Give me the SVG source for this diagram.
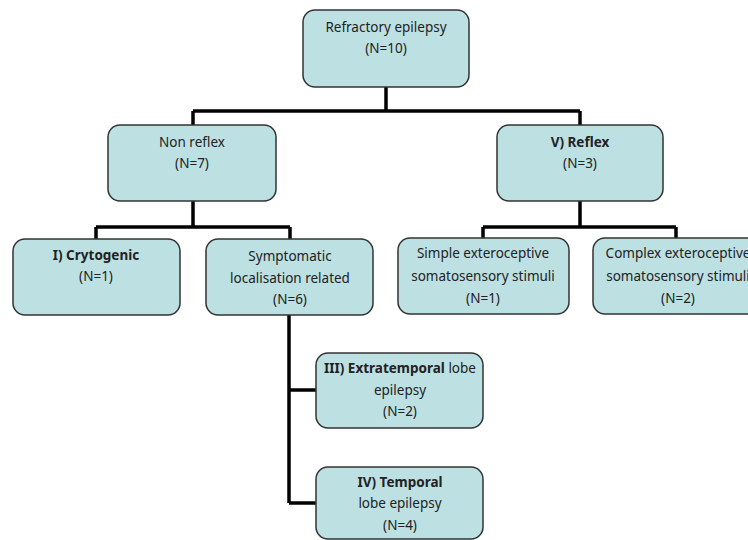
<svg xmlns="http://www.w3.org/2000/svg" width="748" height="540" viewBox="0 0 748 540">
<style>
.box{fill:#bde0e3;stroke:#333;stroke-width:1.5}
.t{font-family:"Noto Sans","Liberation Sans",sans-serif;font-size:13.5px;fill:#222;text-anchor:middle}
.b{font-weight:bold}
.c{fill:none;stroke:#000;stroke-width:3.5}
</style>
<rect width="748" height="540" fill="#fff"/>
<g id="connectors">
<path class="c" d="M386 87V111M193 111H580M193 111V125M580 111V125"/>
<path class="c" d="M193 201V227M96 227H290M96 227V239M290 227V239"/>
<path class="c" d="M580 201V227M483 227H676M483 227V238M676 227V238"/>
<path class="c" d="M289 315V503M289 390H316M289 503H316"/>
</g>
<g id="n_root"><rect class="box" x="303" y="10" width="166" height="77" rx="12"/>
<text class="t" x="386" y="32">Refractory epilepsy</text><text class="t" x="386" y="53">(N=10)</text></g>
<g id="n_nonreflex"><rect class="box" x="108" y="125" width="168" height="76" rx="12"/>
<text class="t" x="192" y="147">Non reflex</text><text class="t" x="192" y="168">(N=7)</text></g>
<g id="n_reflex"><rect class="box" x="497" y="125" width="166" height="76" rx="12"/>
<text class="t b" x="580" y="147">V) Reflex</text><text class="t" x="580" y="168">(N=3)</text></g>
<g id="n_cryto"><rect class="box" x="13" y="239" width="167" height="76" rx="12"/>
<text class="t b" x="96" y="260">I) Crytogenic</text><text class="t" x="96" y="281">(N=1)</text></g>
<g id="n_sympt"><rect class="box" x="206" y="239" width="167" height="76" rx="12"/>
<text class="t" x="290" y="261">Symptomatic</text><text class="t" x="290" y="283">localisation related</text><text class="t" x="290" y="304">(N=6)</text></g>
<g id="n_simple"><rect class="box" x="398" y="238" width="171" height="76" rx="12"/>
<text class="t" x="483" y="258">Simple exteroceptive</text><text class="t" x="483" y="281">somatosensory stimuli</text><text class="t" x="483" y="303">(N=1)</text></g>
<g id="n_complex"><rect class="box" x="593" y="238" width="171" height="76" rx="12"/>
<text class="t" x="678" y="258">Complex exteroceptive</text><text class="t" x="678" y="281">somatosensory stimuli</text><text class="t" x="678" y="303">(N=2)</text></g>
<g id="n_extra"><rect class="box" x="316" y="353" width="167" height="75" rx="12"/>
<text class="t" x="400" y="373"><tspan class="b">III) Extratemporal</tspan> lobe</text><text class="t" x="400" y="395">epilepsy</text><text class="t" x="400" y="416">(N=2)</text></g>
<g id="n_temp"><rect class="box" x="316" y="467" width="167" height="72" rx="12"/>
<text class="t b" x="400" y="487">IV) Temporal</text><text class="t" x="400" y="508">lobe epilepsy</text><text class="t" x="400" y="530">(N=4)</text></g>
</svg>
